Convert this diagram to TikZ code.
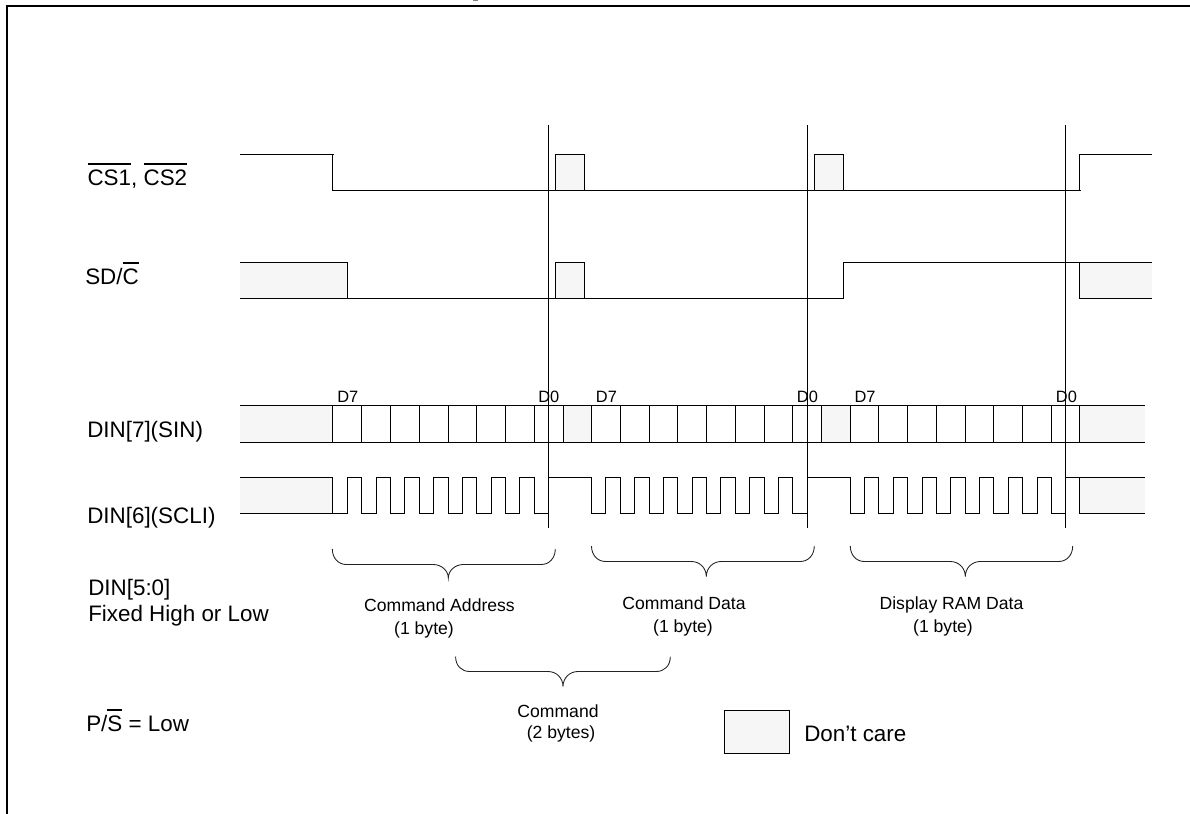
\documentclass[tikz,border=0pt]{standalone}
\usepackage{fontspec}
\setmainfont{Liberation Sans}
\definecolor{dc}{HTML}{F6F6F6}
\definecolor{brace}{HTML}{222222}
\newsavebox{\ovlbox}
\newcommand{\ovl}[1]{\sbox{\ovlbox}{#1}\rlap{\rule[15.3pt]{\wd\ovlbox}{1.1pt}}\usebox{\ovlbox}}
\tikzset{
  wave/.style={black,line width=0.8pt,line cap=butt,line join=miter},
  cursor/.style={black,line width=0.8pt},
  frameline/.style={black,line width=1.5pt},
  carebox/.style={fill=dc,draw=none},
  curly/.style={brace,line width=0.65pt},
  siglabel/.style={anchor=base west,inner sep=0pt,font=\fontsize{16.8}{20}\selectfont},
  bitlabel/.style={anchor=base west,inner sep=0pt,font=\fontsize{12.3}{15}\selectfont},
  bracelabel/.style={anchor=base,inner sep=0pt,font=\fontsize{13.2}{15}\selectfont},
}
\begin{document}
\begin{tikzpicture}[x=0.75pt,y=-0.75pt]
\useasboundingbox (0,0) rectangle (1190,814);
% frame (open at the right and bottom)
\draw[frameline] (7,814) -- (7,6) -- (1190,6);
\fill[gray] (473,0) rectangle (478,1.2);
% don't care fills
\fill[carebox] (240,262.5) rectangle (347.5,298.5);
\fill[carebox] (555.5,154.5) rectangle (584.5,190.5);
\fill[carebox] (814.5,154.5) rectangle (843.5,190.5);
\fill[carebox] (555.5,262.5) rectangle (584.5,298.5);
\fill[carebox] (1079.5,262.5) rectangle (1152,298.5);
\fill[carebox] (240,405.5) rectangle (332.5,442.5);
\fill[carebox] (563.5,405.5) rectangle (591.5,442.5);
\fill[carebox] (821.5,405.5) rectangle (850.5,442.5);
\fill[carebox] (1079.5,405.5) rectangle (1145,442.5);
\fill[carebox] (240,477.5) rectangle (332.5,513.5);
\fill[carebox] (1079.5,477.5) rectangle (1145,513.5);
% CS
\draw[wave] (240,154.5) -- (333.5,154.5);
\draw[wave] (332.5,154.5) -- (332.5,190.5) -- (1080.5,190.5);
\draw[wave] (1079.5,190.5) -- (1079.5,154.5) -- (1152,154.5);
\draw[wave] (555.5,190.5) |- (584.5,154.5) -- (584.5,190.5);
\draw[wave] (814.5,190.5) |- (843.5,154.5) -- (843.5,190.5);
% SD/C
\draw[wave] (240,262.5) -| (347.5,298.5);
\draw[wave] (240,298.5) -- (843.5,298.5) -- (843.5,262.5) -- (1152,262.5);
\draw[wave] (555.5,298.5) |- (584.5,262.5) -- (584.5,298.5);
\draw[wave] (1079.5,262.5) -- (1079.5,298.5) -- (1152,298.5);
% DIN7
\draw[wave] (240,405.5) -- (1145,405.5);
\draw[wave] (240,442.5) -- (1145,442.5);
\foreach \x in {332.5,361.5,390.5,419.5,448.5,476.5,505.5,534.5,563.5,591.5,
  620.5,649.5,677.5,706.5,735.5,764.5,792.5,821.5,850.5,878.5,
  907.5,936.5,965.5,993.5,1022.5,1051.5,1079.5}
  \draw[wave] (\x,405.5) -- (\x,442.5);
% DIN6
\draw[wave] (240,477.5) -- (332.5,477.5)
  \foreach \a/\b in {332.5/347.5,361.5/376.5,390.5/404.5,419.5/433.5,448.5/462.5,476.5/491.5,505.5/519.5,534.5/548.5,
   591.5/605.5,620.5/634.5,649.5/663.5,677.5/692.5,706.5/720.5,735.5/749.5,764.5/778.5,792.5/807.5,
   850.5/864.5,878.5/893.5,907.5/922.5,936.5/950.5,965.5/979.5,993.5/1008.5,1022.5/1037.5,1051.5/1065.5}
  { -- (\a,477.5) -- (\a,513.5) -- (\b,513.5) -- (\b,477.5) }
  -- (1145,477.5);
\draw[wave] (240,513.5) -- (332.5,513.5);
\draw[wave] (1079.5,477.5) -- (1079.5,513.5) -- (1145,513.5);
% cursors
\foreach \x in {548.5,807.5,1065.5} \draw[cursor] (\x,125) -- (\x,528);
% braces
\foreach \l/\r/\c/\t/\f/\e in {332.3/555.3/448.3/549/564.5/578,591.5/814.3/706.3/546/561.5/576.7,850.3/1072.7/965.3/546/561.5/576.7,455.6/670.3/563/656.7/671.5/686.7}{
  \draw[curly] (\l,\t) .. controls (\l,\t+9) and (\l+6,\f) .. (\l+14,\f) -- (\c-15,\f)
    .. controls (\c-7,\f) and (\c,\f+6) .. (\c,\e)
    .. controls (\c,\f+6) and (\c+7,\f) .. (\c+15,\f) -- (\r-14,\f)
    .. controls (\r-6,\f) and (\r,\t+9) .. (\r,\t);
}
% legend
\node[draw=black,line width=0.8pt,fill=dc,minimum width=48.75pt,minimum height=32.25pt,inner sep=0pt,outer sep=0pt,anchor=north west] (legend) at (724.5,710.5) {};
\node[siglabel] (care) at (804,741) {Don’t care};
% labels
\node[siglabel] (csl) at (87.3,185) {\ovl{CS1}, \ovl{CS2}};
\node[siglabel] (sdl) at (85,284) {SD/\ovl{C}};
\node[siglabel] (d7l) at (87,437) {DIN[7](SIN)};
\node[siglabel] (d6l) at (87,523) {DIN[6](SCLI)};
\node[siglabel] (d5l) at (88,595.7) {DIN[5:0]};
\node[siglabel] (fxl) at (88,621) {Fixed High or Low};
\node[siglabel] (psl) at (86,731) {P/\ovl{S} = Low};
% bit labels
\foreach \x/\s [count=\i] in {337/D7,538/D0,595.7/D7,796.7/D0,854.3/D7,1055.7/D0}
  \node[bitlabel] (bit\i) at (\x,402.7) {\s};
% brace labels
\node[bracelabel] (ca) at (439.5,611.7) {Command Address};
\node[bracelabel] (cab) at (424,634) {(1 byte)};
\node[bracelabel] (cd) at (684,609) {Command Data};
\node[bracelabel] (cdb) at (683,632.5) {(1 byte)};
\node[bracelabel] (dr) at (951.5,609) {Display RAM Data};
\node[bracelabel] (drb) at (943,632) {(1 byte)};
\node[bracelabel] (cm) at (558,717.7) {Command};
\node[bracelabel] (cmb) at (561,738) {(2 bytes)};
\end{tikzpicture}
\end{document}
